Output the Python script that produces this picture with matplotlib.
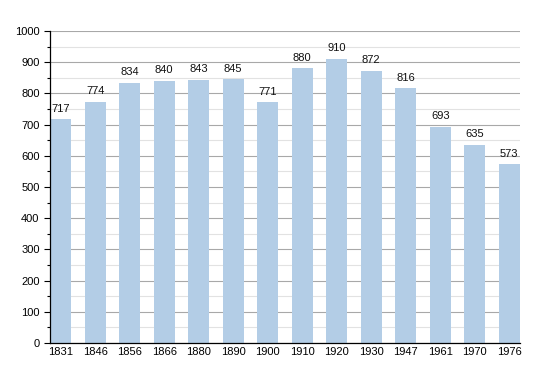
import numpy as np
import matplotlib.pyplot as plt
from matplotlib.ticker import MultipleLocator

plt.rcParams['font.family'] = ['Liberation Sans', 'DejaVu Sans']

years = ['1831', '1846', '1856', '1866', '1880', '1890', '1900',
         '1910', '1920', '1930', '1947', '1961', '1970', '1976']
population = [717, 774, 834, 840, 843, 845, 771, 880, 910, 872, 816, 693, 635, 573]

fig = plt.figure(figsize=(5.5, 3.73), dpi=100)
ax = fig.add_axes([0.0909, 0.0804, 0.8545, 0.8365])

x = np.arange(len(years))
ax.bar(x, population, width=0.62, color='#b3cde6', zorder=2)

# valeurs au-dessus des barres
for xi, v in zip(x, population):
    ax.text(xi, v + 18, str(v), ha='center', va='bottom', fontsize=8,
            color='#111111', zorder=3)

ax.set_xlim(-0.31, len(years) - 1 + 0.31)
ax.set_ylim(0, 1000)
ax.set_xticks(x)
ax.set_xticklabels(years, fontsize=8)
ax.yaxis.set_major_locator(MultipleLocator(100))
ax.yaxis.set_minor_locator(MultipleLocator(50))
ax.tick_params(axis='y', labelsize=8, length=4, width=0.8)
ax.tick_params(axis='y', which='minor', length=2, width=0.8)
ax.tick_params(axis='x', length=0, pad=3)

ax.grid(axis='y', which='major', color='#a8a8a8', linewidth=0.8, zorder=1)
ax.grid(axis='y', which='minor', color='#e2e2e2', linewidth=0.8, zorder=1)
ax.set_axisbelow(True)

for s in ['top', 'right']:
    ax.spines[s].set_visible(False)
ax.spines['left'].set_linewidth(0.9)
ax.spines['bottom'].set_linewidth(0.9)

fig.savefig('out.png', dpi=100)
